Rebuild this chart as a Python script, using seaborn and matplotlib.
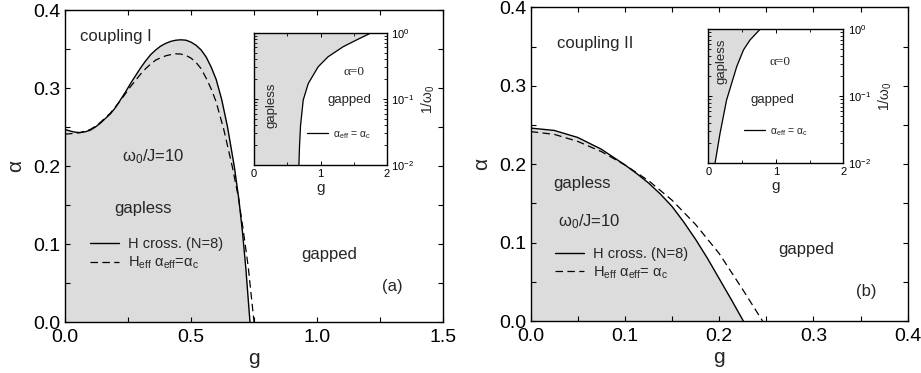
import numpy as np
import pandas as pd
import matplotlib
matplotlib.use("Agg")
import matplotlib.pyplot as plt
from matplotlib.ticker import MultipleLocator, LogLocator, NullFormatter
import seaborn as sns

# ---------------- data ----------------
# panel (a): coupling I
g_a_solid = [0.00, 0.02, 0.04, 0.06, 0.08, 0.10, 0.12, 0.14, 0.16, 0.18, 0.20, 0.22, 0.24,
             0.26, 0.28, 0.30, 0.32, 0.34, 0.36, 0.38, 0.40, 0.42, 0.44, 0.46, 0.48, 0.50,
             0.52, 0.54, 0.56, 0.58, 0.60, 0.622, 0.645, 0.672, 0.69, 0.704, 0.717, 0.734]
a_a_solid = [0.247, 0.245, 0.2435, 0.243, 0.244, 0.246, 0.250, 0.255, 0.261, 0.267, 0.275, 0.285, 0.295,
             0.306, 0.316, 0.326, 0.335, 0.343, 0.349, 0.354, 0.3575, 0.360, 0.3615, 0.362, 0.3615, 0.359,
             0.355, 0.349, 0.340, 0.327, 0.311, 0.285, 0.250, 0.199, 0.157, 0.116, 0.071, 0.0]
g_a_dash = [0.00, 0.02, 0.04, 0.06, 0.08, 0.10, 0.12, 0.14, 0.16, 0.18, 0.20, 0.22, 0.24,
            0.26, 0.28, 0.30, 0.32, 0.34, 0.36, 0.38, 0.40, 0.42, 0.44, 0.46, 0.48, 0.50,
            0.52, 0.54, 0.563, 0.58, 0.599, 0.63, 0.664, 0.688, 0.708, 0.727, 0.75]
a_a_dash = [0.241, 0.2415, 0.242, 0.243, 0.245, 0.247, 0.251, 0.256, 0.262, 0.268, 0.276, 0.284, 0.293,
            0.302, 0.310, 0.318, 0.325, 0.331, 0.336, 0.339, 0.3415, 0.343, 0.344, 0.3437, 0.342, 0.3385,
            0.333, 0.325, 0.311, 0.299, 0.283, 0.247, 0.199, 0.160, 0.116, 0.071, 0.0]

# panel (b): coupling II
g_b_solid = [0.000, 0.025, 0.050, 0.075, 0.100, 0.1125, 0.125, 0.1375, 0.150, 0.1625,
             0.175, 0.1875, 0.200, 0.2125, 0.2256]
a_b_solid = [0.246, 0.243, 0.234, 0.219, 0.199, 0.188, 0.176, 0.162, 0.146, 0.126,
             0.104, 0.080, 0.054, 0.028, 0.0]
g_b_dash = [0.000, 0.025, 0.050, 0.075, 0.100, 0.125, 0.150, 0.175, 0.200, 0.225, 0.246]
a_b_dash = [0.2415, 0.238, 0.229, 0.216, 0.199, 0.179, 0.154, 0.123, 0.086, 0.040, 0.0]

# insets: alpha = 0, boundary alpha_eff = alpha_c
g_ia = [0.675, 0.685, 0.70, 0.74, 0.815, 0.965, 1.115, 1.34, 1.54, 1.765]
w_ia = [0.010, 0.020, 0.040, 0.096, 0.170, 0.306, 0.434, 0.614, 0.776, 1.0]
g_ib = [0.099, 0.173, 0.27, 0.42, 0.52, 0.617, 0.765]
w_ib = [0.010, 0.028, 0.088, 0.277, 0.492, 0.693, 1.0]

lab_solid = "H cross. (N=8)"
lab_dash_a = r"H$_{\rm eff}$ α$_{\rm eff}$=α$_{\rm c}$"
lab_dash_b = r"H$_{\rm eff}$ α$_{\rm eff}$= α$_{\rm c}$"
lab_inset = r"α$_{\rm eff}$ = α$_{\rm c}$"

# ---------------- style ----------------
sns.set_style("ticks")
plt.rcParams["font.family"] = ["Liberation Sans", "DejaVu Sans"]
plt.rcParams["mathtext.fontset"] = "custom"
plt.rcParams["mathtext.rm"] = "Liberation Sans"
plt.rcParams["mathtext.it"] = "Liberation Sans:italic"
plt.rcParams["mathtext.bf"] = "Liberation Sans:bold"
plt.rcParams["axes.linewidth"] = 1.0
plt.rcParams["axes.edgecolor"] = "black"

FILL = "#dcdcdc"

fig = plt.figure(figsize=(9.21, 3.73), dpi=100)
axA = fig.add_axes([0.0706, 0.1367, 0.4104, 0.836])
axB = fig.add_axes([0.5762, 0.1394, 0.4094, 0.841])
inA = fig.add_axes([0.2758, 0.5576, 0.1444, 0.3547])
inB = fig.add_axes([0.7691, 0.5622, 0.1466, 0.3592])


def style_main(ax, xmax, xmaj, xmin):
    ax.set_xlim(0, xmax)
    ax.set_ylim(0, 0.4)
    ax.xaxis.set_major_locator(MultipleLocator(xmaj))
    ax.xaxis.set_minor_locator(MultipleLocator(xmin))
    ax.yaxis.set_major_locator(MultipleLocator(0.1))
    ax.yaxis.set_minor_locator(MultipleLocator(0.05))
    ax.tick_params(which="both", direction="in", top=True, right=True,
                   length=3.5, width=0.8, labelsize=14, colors="black")
    ax.tick_params(axis="x", which="both", pad=5)
    ax.tick_params(axis="y", which="both", pad=3)
    ax.set_xlabel("g", fontsize=15, labelpad=2)
    ax.set_ylabel("α", fontsize=15, labelpad=6)
    for s in ax.spines.values():
        s.set_visible(True)
        s.set_linewidth(1.0)


def style_inset(ax):
    ax.set_xlim(0, 2)
    ax.set_yscale("log")
    ax.set_ylim(0.01, 1)
    ax.xaxis.set_major_locator(MultipleLocator(1))
    ax.xaxis.set_minor_locator(MultipleLocator(0.5))
    ax.yaxis.set_major_locator(LogLocator(base=10, numticks=5))
    ax.yaxis.set_minor_locator(LogLocator(base=10, subs=np.arange(2, 10), numticks=20))
    ax.yaxis.set_minor_formatter(NullFormatter())
    ax.yaxis.tick_right()
    ax.yaxis.set_label_position("right")
    ax.tick_params(which="both", direction="in", top=True, left=True, right=True,
                   labelleft=False, labelright=True, labelsize=8, pad=3, colors="black")
    ax.tick_params(which="major", length=3, width=0.7)
    ax.tick_params(which="minor", length=2, width=0.6)
    ax.set_xlabel("g", fontsize=11, labelpad=1)
    ax.set_ylabel(r"1/ω$_0$", fontsize=10, labelpad=4)
    ax.set_facecolor("white")
    for s in ax.spines.values():
        s.set_visible(True)
        s.set_linewidth(1.0)


# ---------------- panel (a) ----------------
axA.fill_between(g_a_solid, 0, a_a_solid, color=FILL, lw=0, zorder=0)
sns.lineplot(x=g_a_solid, y=a_a_solid, ax=axA, color="black", linewidth=1.0,
             sort=False, estimator=None, label=lab_solid)
sns.lineplot(x=g_a_dash, y=a_a_dash, ax=axA, color="black", linewidth=0.9,
             sort=False, estimator=None, label=lab_dash_a)
axA.lines[-1].set_dashes([6, 3.5])
style_main(axA, 1.5, 0.5, 0.25)
axA.legend(loc="center left", bbox_to_anchor=(0.065, 0.218), frameon=False,
           fontsize=10.5, handlelength=2.0, handletextpad=0.6, labelspacing=0.25,
           borderpad=0, borderaxespad=0)
axA.text(0.06, 0.366, "coupling I", fontsize=12, ha="left", va="center")
axA.text(0.35, 0.212, r"ω$_0$/J=10", fontsize=12, ha="center", va="center")
axA.text(0.31, 0.146, "gapless", fontsize=12, ha="center", va="center")
axA.text(1.05, 0.087, "gapped", fontsize=12, ha="center", va="center")
axA.text(1.30, 0.045, "(a)", fontsize=12, ha="center", va="center")

# ---------------- panel (b) ----------------
axB.fill_between(g_b_solid, 0, a_b_solid, color=FILL, lw=0, zorder=0)
sns.lineplot(x=g_b_solid, y=a_b_solid, ax=axB, color="black", linewidth=1.0,
             sort=False, estimator=None, label=lab_solid)
sns.lineplot(x=g_b_dash, y=a_b_dash, ax=axB, color="black", linewidth=0.9,
             sort=False, estimator=None, label=lab_dash_b)
axB.lines[-1].set_dashes([6, 3.5])
style_main(axB, 0.4, 0.1, 0.05)
axB.legend(loc="center left", bbox_to_anchor=(0.065, 0.182), frameon=False,
           fontsize=10.5, handlelength=2.0, handletextpad=0.6, labelspacing=0.25,
           borderpad=0, borderaxespad=0)
axB.text(0.0276, 0.354, "coupling II", fontsize=12, ha="left", va="center")
axB.text(0.0544, 0.1756, "gapless", fontsize=12, ha="center", va="center")
axB.text(0.0622, 0.1266, r"ω$_0$/J=10", fontsize=12, ha="center", va="center")
axB.text(0.2926, 0.0914, "gapped", fontsize=12, ha="center", va="center")
axB.text(0.3558, 0.0374, "(b)", fontsize=12, ha="center", va="center")

# ---------------- insets ----------------
for ax, gx, wy, leg_xy, gl_xy, a0_xy, gp_xy in [
    (inA, g_ia, w_ia, (0.40, 0.227), (0.266, 0.081), (1.50, 0.257), (1.43, 0.096)),
    (inB, g_ib, w_ib, (0.265, 0.236), (0.198, 0.33), (1.06, 0.33), (0.95, 0.088)),
]:
    ax.fill_betweenx(wy, 0, gx, color=FILL, lw=0, zorder=0)
    sns.lineplot(x=gx, y=wy, ax=ax, color="black", linewidth=0.9,
                 sort=False, estimator=None, label=lab_inset)
    style_inset(ax)
    ax.legend(loc="center left", bbox_to_anchor=leg_xy, frameon=False,
              fontsize=7.5, handlelength=2.0, handletextpad=0.5,
              borderpad=0, borderaxespad=0)
    ax.text(*gl_xy, "gapless", fontsize=9.5, rotation=90, ha="center", va="center")
    ax.text(*a0_xy, "α=0", fontsize=9.5, ha="center", va="center",
            family=["Liberation Serif", "DejaVu Serif"])
    ax.text(*gp_xy, "gapped", fontsize=9.5, ha="center", va="center")

fig.savefig("out.png", dpi=100)
